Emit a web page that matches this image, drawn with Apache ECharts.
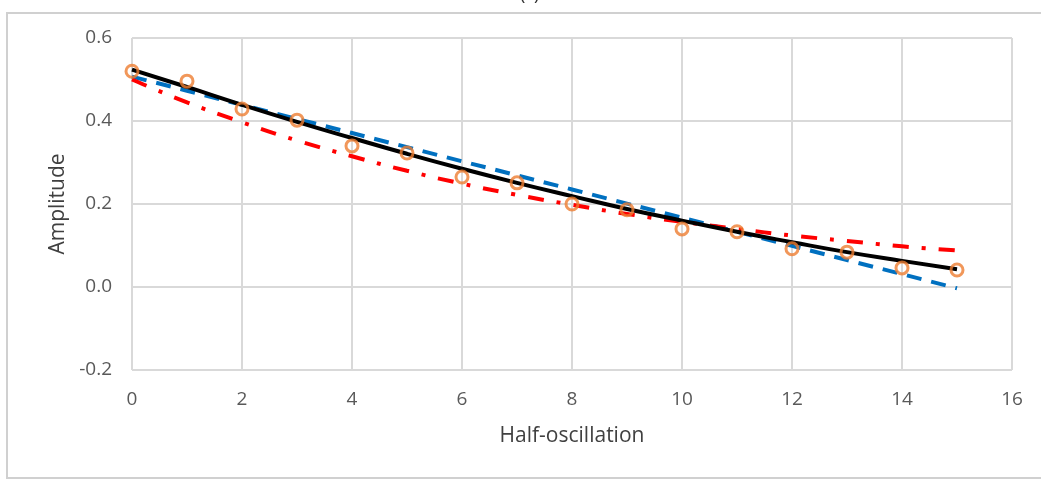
<!DOCTYPE html>
<html>
<head>
<meta charset="utf-8">
<script src="https://cdn.jsdelivr.net/npm/echarts@6/dist/echarts.min.js"></script>
<style>
  html, body { margin: 0; padding: 0; background: #fff; }
  #chart { width: 1041px; height: 480px; }
</style>
</head>
<body>
<div id="chart"></div>
<script>
// half-oscillation index
const halfOsc = [0, 1, 2, 3, 4, 5, 6, 7, 8, 9, 10, 11, 12, 13, 14, 15];
// measured amplitudes (orange circles)
const measured = [0.520, 0.496, 0.429, 0.402, 0.340, 0.323, 0.265, 0.251, 0.200, 0.186, 0.140, 0.133, 0.092, 0.084, 0.046, 0.041];
// black solid fit
const fitBlack = [0.524, 0.482, 0.439, 0.398, 0.359, 0.321, 0.285, 0.251, 0.219, 0.188, 0.160, 0.133, 0.108, 0.084, 0.063, 0.043];
// blue dashed fit (linear)
const fitBlue = [0.507, 0.473, 0.439, 0.405, 0.371, 0.337, 0.303, 0.269, 0.235, 0.201, 0.167, 0.133, 0.099, 0.065, 0.031, -0.003];
// red dash-dot fit
const fitRed = [0.500, 0.445, 0.397, 0.353, 0.315, 0.280, 0.249, 0.222, 0.198, 0.176, 0.157, 0.140, 0.124, 0.111, 0.098, 0.088];

const pairs = (ys) => halfOsc.map((x, i) => [x, ys[i]]);

const chart = echarts.init(document.getElementById('chart'));
const axisFont = { color: '#595959', fontSize: 19, fontFamily: '"Open Sans", sans-serif' };

const option = {
    animation: false,
    grid: { left: 132, right: 29, top: 38, bottom: 110 },
    graphic: [
        {
            type: 'rect',
            shape: { x: 7, y: 13, width: 1040, height: 465 },
            style: { fill: 'none', stroke: '#D0D0D0', lineWidth: 2 }
        },
        {
            type: 'text', left: 520, top: -14,
            style: { text: '(c)', fontSize: 18, fill: '#333', fontFamily: '"Open Sans", sans-serif' }
        }
    ],
    xAxis: {
        type: 'value', min: 0, max: 16, interval: 2,
        name: 'Half-oscillation', nameLocation: 'middle', nameGap: 56,
        nameTextStyle: { color: '#404040', fontSize: 21, fontFamily: '"Open Sans", sans-serif' },
        axisLine: { show: false },
        axisTick: { show: false },
        axisLabel: Object.assign({ margin: 20 }, axisFont),
        splitLine: { show: true, lineStyle: { color: '#D9D9D9', width: 2 } }
    },
    yAxis: {
        type: 'value', min: -0.2, max: 0.6, interval: 0.2,
        name: 'Amplitude', nameLocation: 'middle', nameGap: 62, nameRotate: 90,
        nameTextStyle: { color: '#404040', fontSize: 21, fontFamily: '"Open Sans", sans-serif' },
        axisLine: { show: false },
        axisTick: { show: false },
        axisLabel: Object.assign({ margin: 20, formatter: (v) => v.toFixed(1) }, axisFont),
        splitLine: { show: true, lineStyle: { color: '#D9D9D9', width: 2 } }
    },
    series: [
        {
            type: 'line', data: pairs(fitBlue), showSymbol: false, z: 2,
            lineStyle: { color: '#0070C0', width: 4, type: [15, 10] }
        },
        {
            type: 'line', data: pairs(fitRed), showSymbol: false, smooth: true, z: 2,
            lineStyle: { color: '#FF0000', width: 4, type: [16, 13, 4, 13] }
        },
        {
            type: 'line', data: pairs(fitBlack), showSymbol: false, smooth: true, z: 3,
            lineStyle: { color: '#000000', width: 4 }
        },
        {
            type: 'scatter', data: pairs(measured), symbol: 'circle', symbolSize: 12, z: 4,
            itemStyle: { color: 'rgba(0,0,0,0)', borderColor: '#ED7D31', borderWidth: 3 }
        }
    ]
};

chart.setOption(option);
</script>
</body>
</html>
